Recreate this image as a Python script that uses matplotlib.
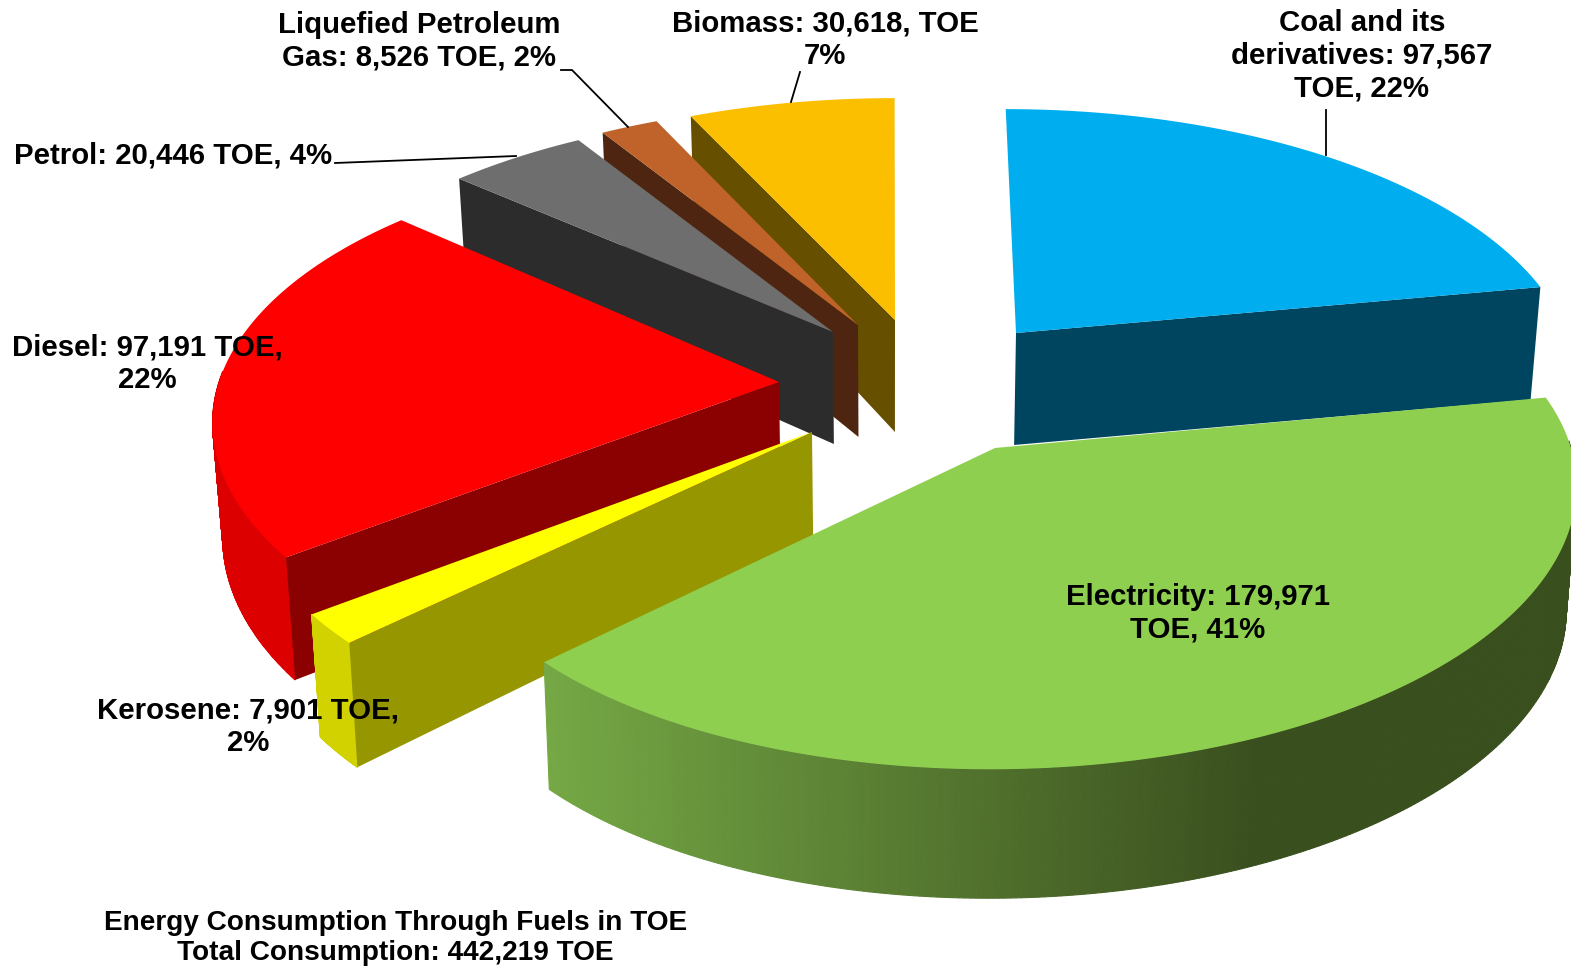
import numpy as np
import matplotlib
matplotlib.use("Agg")
import matplotlib.pyplot as plt
from matplotlib.colors import to_rgb

# ---- data ----
fuels = ["Coal and its derivatives", "Electricity", "Kerosene", "Diesel", "Petrol", "Liquefied Petroleum Gas", "Biomass"]
values = [97567, 179971, 7901, 97191, 20446, 8526, 30618]
labels = ["Coal and its\nderivatives: 97,567\nTOE, 22%",
          "Electricity: 179,971\nTOE, 41%",
          "Kerosene: 7,901 TOE,\n2%",
          "Diesel: 97,191 TOE,\n22%",
          "Petrol: 20,446 TOE, 4%",
          "Liquefied Petroleum\nGas: 8,526 TOE, 2%",
          "Biomass: 30,618, TOE\n7%"]
title = "Energy Consumption Through Fuels in TOE\nTotal Consumption: 442,219 TOE"

# ---- styles ----
top_colors = ["#00AEEF", "#8FCF50", "#FFFF00", "#FF0000", "#6E6E6E", "#C0632A", "#FCBF00"]
side_colors = ["#00455F", "#3A4F1E", "#969600", "#8B0000", "#2C2C2C", "#4D2510", "#665000"]
rim_colors = ["#00455F", "#75A845", "#D2D200", "#DC0000", "#2C2C2C", "#4D2510", "#665000"]
apex_x = [1016, 995, 812, 779, 833, 858, 895]
apex_y = [333, 448, 432, 382, 332, 325, 320]
rim_dx = [-8.5, 14.9, 1, 1.7, -1, 0, 0]
rim_dy = [1, 1.6, 2, -5, 3.5, 3, 3]
rim_skew = [8.5, 22.9, 0, -14.4, 0, 0, 0]
rim_tilt = [0, -5.2, 0, 0, 0, 0, 0]
rim_depth = [1.03, 1.105, 1.0, 1.0, 1.0, 1.0, 1.0]
rim_flat = [0.2, 0.8, 0.2, 0.2, 0.2, 0.2, 0.2]
# which radial side of each slice faces the viewer: 0 = first edge, 1 = last edge, None = neither
open_face = [1, None, 0, 0, 0, 0, 0]
draw_order = [0, 6, 5, 4, 3, 2, 1]
label_xy = [(1362, 56), (1198, 613), (248, 727), (147, 363.5), (173, 155.5), (419, 41.5), (825, 40)]
leaders = [[(1326, 110), (1326, 155)], [(800, 72), (791, 102)],
           [(561, 70), (572, 70), (628, 127)], [(335, 163), (516, 156)]]

RX, RY, Q, DEPTH, VX, CONV, SHRINK = 560.0, 264.0, 0.174, 112.0, 890.0, 0.55, 0.985
SHADE_START, SHADE_END = 545, 1258

fig = plt.figure(figsize=(15.71, 9.71), dpi=100)
ax = fig.add_axes([0, 0, 1, 1])
ax.set_xlim(0, 1571)
ax.set_ylim(971, 0)
ax.axis("off")


def project(i, theta, depth=False):
    c = np.cos(theta)
    n = np.sin(theta)
    s = 1.0 / (1.0 + Q * c)
    x = apex_x[i] + RX * n * s + CONV * (apex_x[i] - VX) * (s - 1) + rim_dx[i] + rim_skew[i] * c
    y = apex_y[i] - RY * c * s + rim_dy[i] + rim_tilt[i] * n
    if depth:
        x = VX + (x - VX) * SHRINK
        y = y + DEPTH * rim_depth[i] * (rim_flat[i] + (1 - rim_flat[i]) * s)
    return x, y


def apex(i, depth=False):
    x, y = float(apex_x[i]), float(apex_y[i])
    if depth:
        x = VX + (x - VX) * SHRINK
        y += DEPTH
    return x, y


def mix(a, b, t):
    a, b = np.array(to_rgb(a)), np.array(to_rgb(b))
    return tuple(a + (b - a) * t)


fractions = np.array(values, dtype=float) / np.sum(values)
edges = np.concatenate([[0], np.cumsum(fractions)]) * 2 * np.pi

for i in draw_order:
    t0, t1 = edges[i], edges[i + 1]
    th = np.linspace(t0, t1, 300)
    xt, yt = project(i, th)
    xb, yb = project(i, th, True)
    # outer rim on the near half only, in thin strips so that electricity can shade along x
    for j in range(len(th) - 1):
        if np.cos(th[j]) > 0.02:
            continue
        if i == 1:
            c = mix(rim_colors[1], side_colors[1], np.clip((xt[j] - SHADE_START) / (SHADE_END - SHADE_START), 0, 1))
        else:
            c = rim_colors[i]
        ax.fill([xt[j], xt[j + 1], xb[j + 1], xb[j]], [yt[j], yt[j + 1], yb[j + 1], yb[j]],
                color=c, lw=0.8, zorder=1)
    # radial face turned to the viewer
    if open_face[i] is not None:
        t = (t0, t1)[open_face[i]]
        a0, a1 = apex(i), apex(i, True)
        p0, p1 = project(i, t), project(i, t, True)
        ax.fill([a0[0], p0[0], p1[0], a1[0]], [a0[1], p0[1], p1[1], a1[1]],
                color=side_colors[i], lw=0, zorder=1)
    # top face
    a0 = apex(i)
    ax.fill(np.r_[a0[0], xt], np.r_[a0[1], yt], color=top_colors[i], lw=0, zorder=1)

for pts in leaders:
    ax.plot(*zip(*pts), color="black", lw=1.3, zorder=3)

font = dict(family="Liberation Sans", weight="bold", color="black",
            ha="center", va="center", zorder=4)
for (x, y), txt in zip(label_xy, labels):
    ax.text(x, y, txt, fontsize=21.2, linespacing=1.22, **font)
ax.text(395.5, 938, title, fontsize=20.15, linespacing=1.2, **font)

fig.savefig("out.png", dpi=100)
